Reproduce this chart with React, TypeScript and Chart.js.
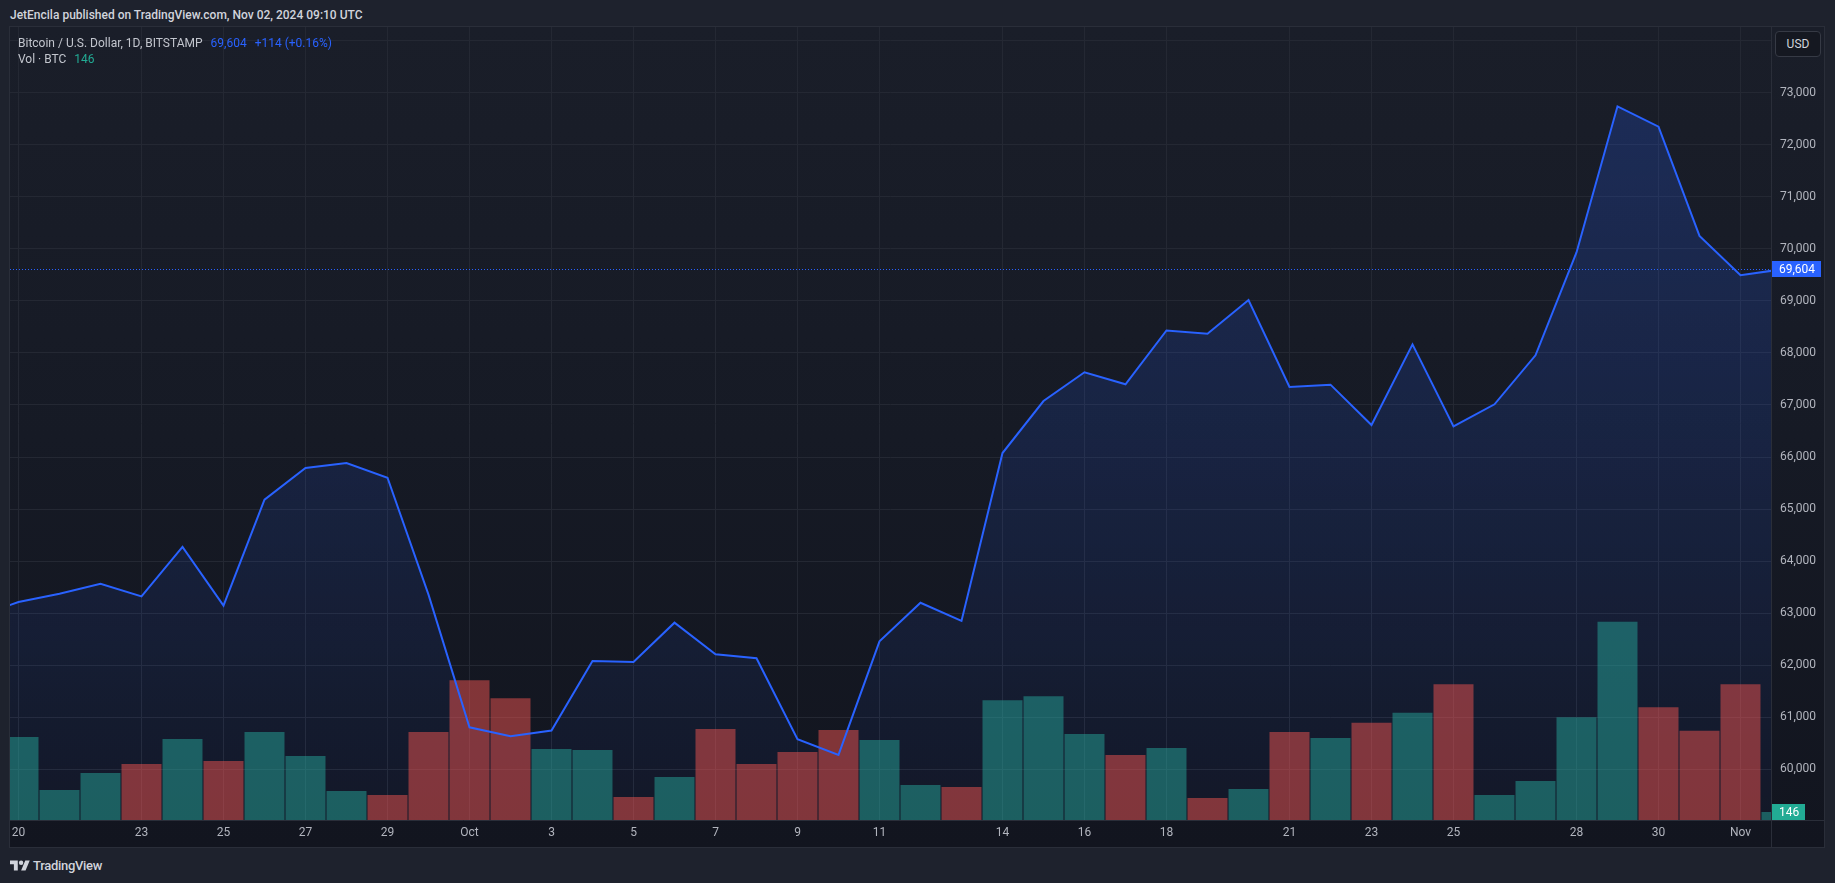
import React, { useEffect, useRef } from "react";
import { Chart, registerables } from "chart.js";

Chart.register(...registerables);

// ---------------- data ----------------
const PUBLISHED_TEXT = "JetEncila published on TradingView.com, Nov 02, 2024 09:10 UTC";
const SYMBOL_TITLE = "Bitcoin / U.S. Dollar, 1D, BITSTAMP";
const VOLUME_TITLE = "Vol · BTC";
const CURRENCY = "USD";
const BRAND = "TradingView";

// daily closes, first value is Sep 19 2024 (day -1), last is Nov 02 2024 (day 43)
const CLOSE_START_DAY = -1;
const closes = [
  62934, 63217, 63376, 63568, 63325, 64273, 63146, 65180, 65789, 65885, 65603, 63357,
  60810, 60637, 60747, 62084, 62065, 62819, 62212, 62135, 60580, 60280, 62461, 63202,
  62852, 66077, 67075, 67628, 67397, 68430, 68367, 69015, 67347, 67390, 66614, 68163,
  66587, 67013, 67954, 69929, 72735, 72345, 70246, 69490, 69604,
];

// daily volume (BTC), first value is Sep 20 2024 (day 0)
const VOLUME_START_DAY = 0;
const volumes = [
  1515, 548, 858, 1022, 1478, 1077, 1606, 1168, 529, 456, 1606, 2555, 2227, 1296, 1278,
  420, 785, 1661, 1022, 1241, 1643, 1460, 639, 602, 2190, 2263, 1570, 1186, 1314, 402,
  566, 1606, 1497, 1779, 1962, 2482, 456, 712, 1880, 3623, 2062, 1633, 2482, 146,
];

// x-axis tick days (day 0 = Sep 20) and their labels
const tickDays = [0, 3, 5, 7, 9, 11, 13, 15, 17, 19, 21, 24, 26, 28, 31, 33, 35, 38, 40, 42];
const tickLabels = ["20", "23", "25", "27", "29", "Oct", "3", "5", "7", "9", "11", "14", "16", "18", "21", "23", "25", "28", "30", "Nov"];

// price-axis gridline values and labelled values
const priceGridValues = [60000, 61000, 62000, 63000, 64000, 65000, 66000, 67000, 68000, 69000, 70000, 71000, 72000, 73000, 74000];
const priceLabelValues = [60000, 61000, 62000, 63000, 64000, 65000, 66000, 67000, 68000, 69000, 70000, 71000, 72000, 73000];

// ---------------- view settings ----------------
const X_MIN = -0.2073;
const X_MAX = 42.744;
const PRICE_MIN = 59030;
const PRICE_MAX = 74258;
const VOLUME_PANE_FRACTION = 0.25;

const FONT = "Roboto, 'Noto Sans', 'DejaVu Sans', sans-serif";
const LINE_BLUE = "#2962ff";
const UP_VOL = "rgba(38,166,154,0.5)";
const DOWN_VOL = "rgba(239,83,80,0.5)";
const UP_TAG = "#22ab94";
const GRID = "#242833";
const SEPARATOR = "#2a2e39";
const AXIS_TEXT = "#b2b5be";

const fmt = (n: number) => n.toLocaleString("en-US");

export default function App() {
  const canvasRef = useRef<HTMLCanvasElement>(null);

  const lastClose = closes[closes.length - 1];
  const prevClose = closes[closes.length - 2];
  const change = lastClose - prevClose;
  const pct = (change / prevClose) * 100;
  const lastVol = volumes[volumes.length - 1];

  useEffect(() => {
    const canvas = canvasRef.current;
    if (!canvas) return;
    const maxVol = Math.max(...volumes);

    const overlay = {
      id: "tvOverlay",
      beforeDatasetsDraw(chart: any) {
        const { ctx, chartArea } = chart;
        const y = Math.round(chart.scales.y.getPixelForValue(lastClose)) + 0.5;
        ctx.save();
        ctx.strokeStyle = LINE_BLUE;
        ctx.lineWidth = 1;
        ctx.setLineDash([1, 2]);
        ctx.beginPath();
        ctx.moveTo(chartArea.left, y);
        ctx.lineTo(chartArea.right, y);
        ctx.stroke();
        ctx.restore();
      },
      afterDraw(chart: any) {
        const { ctx, chartArea, width, height } = chart;
        ctx.save();
        ctx.strokeStyle = SEPARATOR;
        ctx.lineWidth = 1;
        ctx.beginPath();
        const vx = Math.round(chartArea.right) + 0.5;
        const hy = Math.round(chartArea.bottom) + 0.5;
        ctx.moveTo(vx, 0);
        ctx.lineTo(vx, height);
        ctx.moveTo(0, hy);
        ctx.lineTo(width, hy);
        ctx.stroke();

        const tag = (text: string, y: number, bg: string) => {
          ctx.font = `12px ${FONT}`;
          const w = ctx.measureText(text).width;
          const h = 16;
          const x0 = Math.round(chartArea.right) + 1;
          const top = Math.round(y - h / 2);
          ctx.fillStyle = bg;
          ctx.fillRect(x0, top, Math.round(w + 13), h);
          ctx.fillStyle = "#ffffff";
          ctx.textAlign = "left";
          ctx.textBaseline = "middle";
          ctx.fillText(text, x0 + 7, top + h / 2 + 0.5);
        };
        tag(fmt(lastClose), chart.scales.y.getPixelForValue(lastClose), LINE_BLUE);
        tag(fmt(lastVol), chart.scales.yVol.getPixelForValue(lastVol), UP_TAG);
        ctx.restore();
      },
    };

    const chart = new Chart(canvas, {
      type: "bar",
      data: {
        datasets: [
          {
            type: "line",
            label: "BTCUSD",
            data: closes.map((c, i) => ({ x: i + CLOSE_START_DAY, y: c })),
            yAxisID: "y",
            xAxisID: "x",
            borderColor: LINE_BLUE,
            borderWidth: 2,
            pointRadius: 0,
            tension: 0,
            fill: "start",
            clip: 0,
            order: 0,
            backgroundColor: (ctx: any) => {
              const area = ctx.chart.chartArea;
              if (!area) return "rgba(41,98,255,0.15)";
              const g = ctx.chart.ctx.createLinearGradient(0, area.top, 0, area.bottom);
              g.addColorStop(0, "rgba(41,98,255,0.24)");
              g.addColorStop(1, "rgba(41,98,255,0.04)");
              return g;
            },
          } as any,
          {
            type: "bar",
            label: "Vol",
            data: volumes.map((v, i) => ({ x: i + VOLUME_START_DAY, y: v })),
            yAxisID: "yVol",
            xAxisID: "x",
            backgroundColor: volumes.map((_, i) => {
              const ci = i + VOLUME_START_DAY - CLOSE_START_DAY;
              return closes[ci] >= closes[ci - 1] ? UP_VOL : DOWN_VOL;
            }),
            borderWidth: 0,
            categoryPercentage: 1,
            barPercentage: 40 / 41,
            clip: 0,
            order: 1,
          } as any,
        ],
      },
      options: {
        animation: false,
        responsive: false,
        events: [],
        layout: { padding: 0 },
        plugins: {
          legend: { display: false },
          tooltip: { enabled: false },
          filler: { drawTime: "beforeDatasetsDraw" },
        } as any,
        scales: {
          x: {
            type: "linear",
            min: X_MIN,
            max: X_MAX,
            offset: false,
            grid: { color: GRID, drawTicks: false, offset: false },
            border: { display: false },
            ticks: {
              autoSkip: false,
              maxRotation: 0,
              padding: 6,
              color: AXIS_TEXT,
              font: { family: FONT, size: 12 },
              callback: (v: any) => {
                const k = tickDays.indexOf(Number(v));
                return k >= 0 ? tickLabels[k] : "";
              },
            },
            afterBuildTicks: (s: any) => {
              s.ticks = tickDays.map((d) => ({ value: d }));
            },
            afterFit: (s: any) => {
              s.height = 27;
              s.paddingLeft = 0;
              s.paddingRight = 0;
            },
          } as any,
          y: {
            type: "linear",
            position: "right",
            min: PRICE_MIN,
            max: PRICE_MAX,
            grid: { color: GRID, drawTicks: false },
            border: { display: false },
            ticks: {
              autoSkip: false,
              padding: 9,
              color: AXIS_TEXT,
              font: { family: FONT, size: 12 },
              callback: (v: any) => (priceLabelValues.includes(Number(v)) ? fmt(Number(v)) : ""),
            },
            afterBuildTicks: (s: any) => {
              s.ticks = priceGridValues.map((p) => ({ value: p }));
            },
            afterFit: (s: any) => {
              s.width = 53;
              s.paddingTop = 0;
              s.paddingBottom = 0;
            },
          } as any,
          yVol: {
            type: "linear",
            display: false,
            min: 0,
            max: maxVol / VOLUME_PANE_FRACTION,
          },
        },
      },
      plugins: [overlay],
    });
    return () => chart.destroy();
  }, []);

  return (
    <div
      style={{
        position: "fixed",
        left: 0,
        top: 0,
        width: 1835,
        height: 883,
        background: "#1e222d",
        overflow: "hidden",
        fontFamily: FONT,
      }}
    >
      <div
        style={{
          position: "absolute",
          left: 10,
          top: 7,
          fontSize: 12,
          fontWeight: 500,
          lineHeight: "16px",
          color: "#d1d4dc",
          whiteSpace: "nowrap",
        }}
      >
        {PUBLISHED_TEXT}
      </div>

      <div
        style={{
          position: "absolute",
          left: 9,
          top: 26,
          width: 1816,
          height: 822,
          boxSizing: "border-box",
          border: `1px solid ${SEPARATOR}`,
          background: "linear-gradient(180deg, #1a1e29 0%, #161a25 50%, #12151f 100%)",
        }}
      >
        <canvas ref={canvasRef} width={1814} height={820} style={{ display: "block", width: 1814, height: 820 }} />
      </div>

      <div
        style={{
          position: "absolute",
          left: 18,
          top: 35,
          fontSize: 12,
          lineHeight: "16px",
          color: "#c3c6ce",
          whiteSpace: "nowrap",
        }}
      >
        <span>{SYMBOL_TITLE}</span>
        <span style={{ color: LINE_BLUE, marginLeft: 8 }}>{fmt(lastClose)}</span>
        <span style={{ color: LINE_BLUE, marginLeft: 8 }}>
          {`${change >= 0 ? "+" : ""}${fmt(change)} (${change >= 0 ? "+" : ""}${pct.toFixed(2)}%)`}
        </span>
      </div>
      <div
        style={{
          position: "absolute",
          left: 18,
          top: 51,
          fontSize: 12,
          lineHeight: "16px",
          color: "#c3c6ce",
          whiteSpace: "nowrap",
        }}
      >
        <span>{VOLUME_TITLE}</span>
        <span style={{ color: UP_TAG, marginLeft: 8 }}>{fmt(lastVol)}</span>
      </div>

      <div
        style={{
          position: "absolute",
          left: 1775,
          top: 31,
          width: 46,
          height: 26,
          boxSizing: "border-box",
          border: "1px solid #363a45",
          borderRadius: 4,
          background: "#151821",
          color: "#d1d4dc",
          fontSize: 12,
          lineHeight: "24px",
          textAlign: "center",
        }}
      >
        {CURRENCY}
      </div>

      <svg
        style={{ position: "absolute", left: 10, top: 858 }}
        width={20}
        height={16}
        viewBox="0 0 36 28"
      >
        <path d="M14 22H7V11H0V4h14v18zM28 22h-8l7.5-18h8L28 22z" fill="#d1d4dc" />
        <circle cx="20" cy="8" r="4" fill="#d1d4dc" />
      </svg>
      <div
        style={{
          position: "absolute",
          left: 33,
          top: 858,
          fontSize: 13,
          fontWeight: 500,
          lineHeight: "16px",
          color: "#d1d4dc",
          letterSpacing: -0.3,
        }}
      >
        {BRAND}
      </div>
    </div>
  );
}
